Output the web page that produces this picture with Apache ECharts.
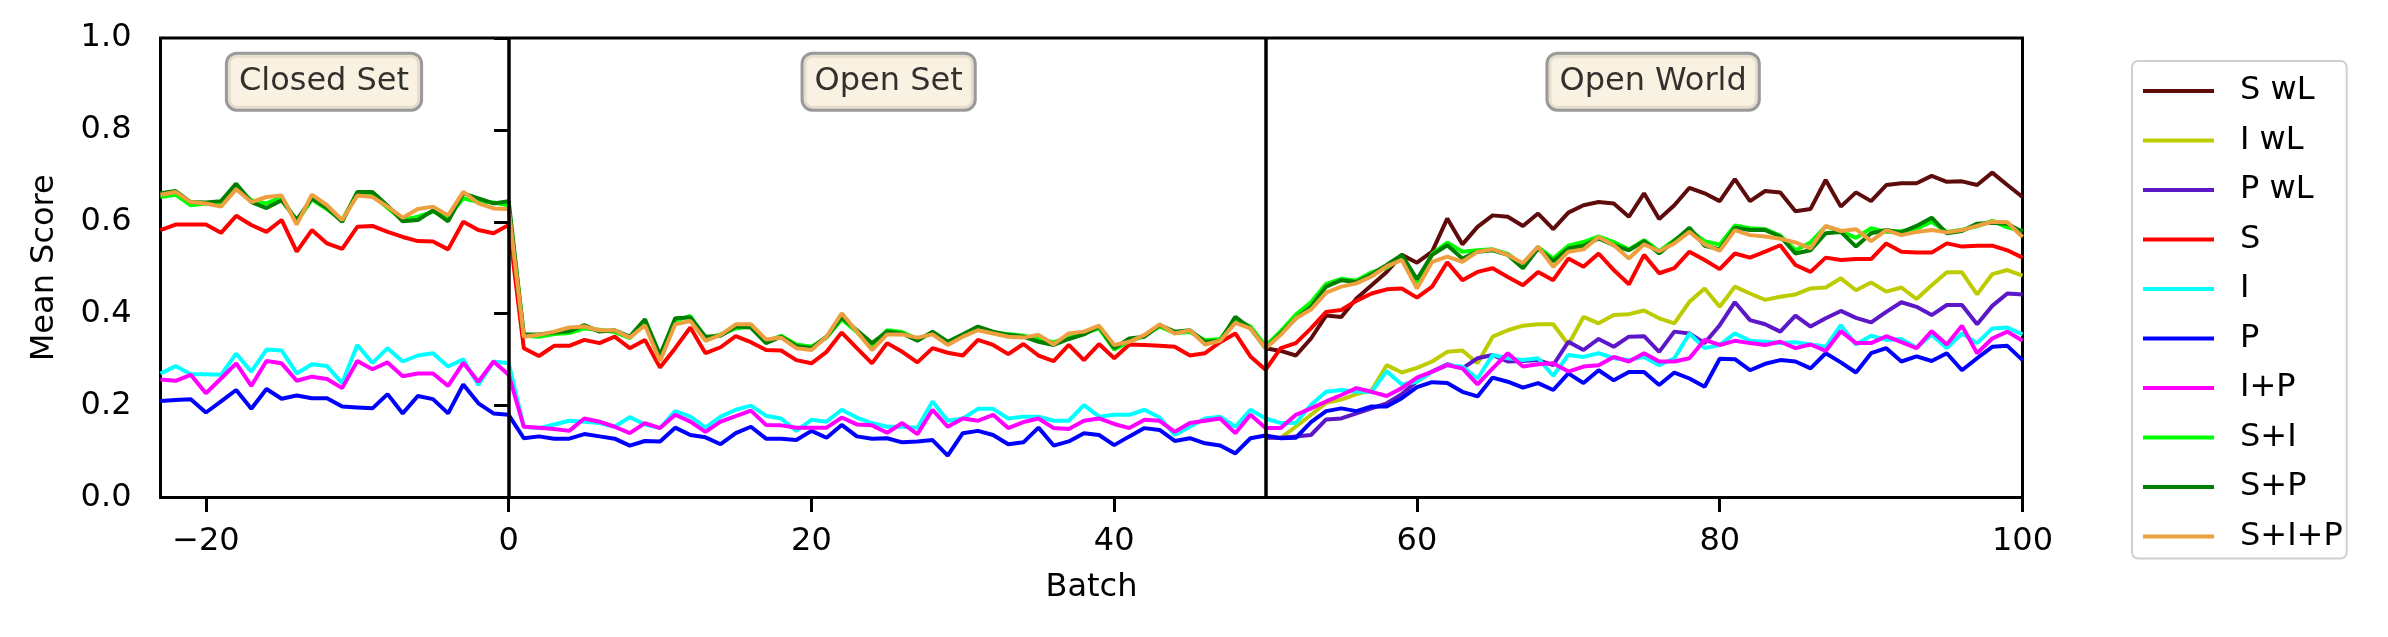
<!DOCTYPE html>
<html>
<head>
<meta charset="utf-8">
<script src="https://cdn.jsdelivr.net/npm/echarts@6/dist/echarts.min.js"></script>
<style>
html,body{margin:0;padding:0;background:#fff;}
#main{width:2388px;height:637px;}
</style>
</head>
<body>
<div id="main"></div>
<script>
// batches -23..100 for the base models, 50..100 for the "wL" models
var batchAll=[];
for(var b=-23;b<=100;b++){batchAll.push(b);}
var batchWL=[];
for(var b2=50;b2<=100;b2++){batchWL.push(b2);}

var seriesNames=["S wL","I wL","P wL","S","I","P","I+P","S+I","S+P","S+I+P"];
var seriesColors=["#5e0b0b","#bdcc00","#5c17c9","#ff0000","#00ffff","#0000ff","#ff00ff","#00ff00","#008000","#eea040"];

var sWL=[0.325,0.319,0.309,0.346,0.396,0.393,0.433,0.462,0.491,0.528,0.511,
	0.535,0.607,0.551,0.589,0.614,0.611,0.591,0.618,0.584,0.620,0.636,0.643,0.640,0.611,0.662,0.606,0.636,0.674,0.662,0.645,
	0.693,0.645,0.667,0.664,0.623,0.628,0.691,0.633,0.664,0.645,0.680,0.684,0.684,0.700,0.687,0.688,0.680,0.707,0.680,0.654];
var iWL=[0.130,0.130,0.154,0.180,0.206,0.213,0.225,0.233,0.288,0.272,0.282,
	0.296,0.317,0.320,0.292,0.350,0.364,0.374,0.377,0.377,0.333,0.393,0.379,0.397,0.399,0.407,0.390,0.379,0.426,0.455,0.415,
	0.459,0.444,0.430,0.437,0.442,0.455,0.457,0.477,0.451,0.468,0.448,0.457,0.432,0.462,0.490,0.490,0.442,0.486,0.495,0.483];
var pWL=[0.130,0.130,0.133,0.136,0.170,0.172,0.183,0.194,0.205,0.225,0.253,
	0.274,0.290,0.281,0.303,0.310,0.296,0.297,0.299,0.288,0.339,0.321,0.345,0.328,0.350,0.351,0.317,0.361,0.357,0.336,0.375,
	0.425,0.386,0.377,0.361,0.396,0.372,0.390,0.406,0.391,0.381,0.404,0.425,0.415,0.397,0.419,0.419,0.377,0.417,0.444,0.442];

var sVals=[0.582,0.594,0.594,0.594,0.576,0.613,0.593,0.578,0.604,0.535,0.582,0.553,0.541,0.589,0.591,0.578,0.567,0.558,0.557,0.540,0.600,0.582,0.575,0.593,
	0.325,0.308,0.330,0.330,0.343,0.336,0.350,0.325,0.343,0.283,0.325,0.370,0.314,0.327,0.351,0.338,0.321,0.320,0.299,0.292,
	0.317,0.359,0.325,0.292,0.336,0.317,0.294,0.325,0.315,0.309,0.343,0.332,0.312,0.334,0.309,0.297,0.332,0.299,0.334,0.303,
	0.333,0.332,0.330,0.328,0.309,0.314,0.338,0.357,0.307,0.278,0.325,0.336,0.368,0.404,0.408,0.428,0.444,0.453,0.455,0.435,
	0.459,0.512,0.473,0.491,0.499,0.480,0.462,0.491,0.473,0.520,0.502,0.531,0.495,0.464,0.528,0.488,0.499,0.535,0.517,0.497,
	0.531,0.522,0.535,0.549,0.506,0.491,0.522,0.517,0.519,0.519,0.553,0.535,0.533,0.533,0.553,0.546,0.548,0.548,0.538,0.522];
var iVals=[0.270,0.286,0.268,0.268,0.267,0.313,0.274,0.322,0.320,0.270,0.290,0.286,0.249,0.332,0.293,0.325,0.296,0.309,0.314,0.285,0.301,0.245,0.296,0.292,
	0.154,0.151,0.159,0.167,0.165,0.162,0.154,0.175,0.159,0.151,0.188,0.176,0.152,0.176,0.191,0.200,0.178,0.172,0.145,0.169,
	0.165,0.191,0.174,0.162,0.154,0.154,0.152,0.209,0.167,0.172,0.193,0.193,0.172,0.176,0.176,0.167,0.167,0.201,0.176,0.180,
	0.180,0.191,0.174,0.136,0.154,0.172,0.176,0.154,0.191,0.172,0.162,0.162,0.202,0.230,0.234,0.230,0.230,0.275,0.246,0.252,
	0.274,0.288,0.285,0.259,0.310,0.303,0.299,0.303,0.265,0.310,0.306,0.314,0.303,0.299,0.306,0.288,0.303,0.357,0.325,0.332,
	0.357,0.341,0.339,0.336,0.338,0.333,0.328,0.375,0.333,0.352,0.343,0.345,0.326,0.354,0.325,0.357,0.336,0.368,0.370,0.355];
var pVals=[0.210,0.212,0.214,0.185,0.209,0.234,0.193,0.236,0.215,0.222,0.216,0.216,0.198,0.196,0.194,0.225,0.183,0.221,0.214,0.183,0.246,0.205,0.183,0.180,
	0.129,0.133,0.128,0.128,0.138,0.133,0.128,0.113,0.123,0.122,0.152,0.136,0.131,0.116,0.140,0.154,0.128,0.128,0.125,0.145,
	0.130,0.158,0.133,0.128,0.129,0.120,0.122,0.125,0.091,0.140,0.145,0.136,0.116,0.120,0.152,0.113,0.122,0.140,0.136,0.114,
	0.133,0.151,0.147,0.123,0.129,0.118,0.113,0.096,0.129,0.135,0.129,0.130,0.164,0.188,0.194,0.188,0.198,0.198,0.216,0.240,
	0.251,0.249,0.230,0.220,0.261,0.252,0.239,0.249,0.234,0.270,0.249,0.277,0.255,0.273,0.273,0.245,0.272,0.259,0.241,0.302,
	0.301,0.277,0.291,0.299,0.296,0.281,0.314,0.294,0.272,0.314,0.325,0.296,0.307,0.297,0.314,0.277,0.303,0.328,0.330,0.299];
var ipVals=[0.257,0.254,0.267,0.227,0.259,0.292,0.243,0.297,0.292,0.254,0.263,0.258,0.238,0.297,0.279,0.294,0.264,0.270,0.270,0.243,0.293,0.252,0.296,0.267,
	0.154,0.152,0.149,0.145,0.172,0.165,0.154,0.140,0.162,0.151,0.180,0.165,0.143,0.165,0.177,0.189,0.158,0.157,0.152,0.152,
	0.152,0.174,0.159,0.157,0.141,0.162,0.138,0.191,0.154,0.172,0.167,0.180,0.151,0.164,0.172,0.151,0.149,0.167,0.172,0.160,
	0.151,0.169,0.167,0.143,0.162,0.167,0.172,0.140,0.180,0.151,0.151,0.180,0.194,0.209,0.223,0.238,0.230,0.221,0.238,0.261,
	0.274,0.288,0.281,0.246,0.281,0.314,0.285,0.290,0.292,0.274,0.285,0.288,0.306,0.296,0.314,0.296,0.296,0.303,0.343,0.332,
	0.341,0.336,0.332,0.339,0.325,0.333,0.319,0.362,0.336,0.336,0.351,0.338,0.325,0.362,0.333,0.374,0.314,0.346,0.361,0.341];
var siVals=[0.654,0.659,0.636,0.640,0.638,0.674,0.647,0.640,0.654,0.599,0.649,0.627,0.604,0.662,0.659,0.630,0.604,0.611,0.622,0.611,0.651,0.643,0.642,0.636,
	0.352,0.350,0.356,0.358,0.368,0.365,0.360,0.347,0.380,0.305,0.385,0.395,0.345,0.355,0.368,0.372,0.340,0.352,0.333,0.328,
	0.348,0.388,0.360,0.330,0.364,0.360,0.345,0.358,0.336,0.352,0.368,0.358,0.356,0.352,0.345,0.338,0.348,0.358,0.368,0.322,
	0.340,0.352,0.372,0.358,0.360,0.342,0.345,0.388,0.372,0.330,0.362,0.398,0.425,0.465,0.476,0.472,0.490,0.500,0.522,0.468,
	0.530,0.555,0.535,0.538,0.540,0.530,0.506,0.545,0.520,0.548,0.556,0.568,0.556,0.540,0.560,0.536,0.560,0.582,0.558,0.550,
	0.592,0.586,0.584,0.570,0.538,0.555,0.590,0.580,0.565,0.586,0.578,0.580,0.585,0.600,0.578,0.583,0.590,0.602,0.588,0.580];
var spVals=[0.662,0.667,0.643,0.642,0.645,0.683,0.643,0.630,0.647,0.604,0.651,0.630,0.600,0.665,0.665,0.635,0.601,0.604,0.625,0.601,0.662,0.651,0.640,0.645,
	0.355,0.355,0.359,0.362,0.375,0.361,0.364,0.350,0.388,0.310,0.390,0.392,0.350,0.352,0.372,0.370,0.336,0.350,0.330,0.325,
	0.350,0.392,0.364,0.336,0.361,0.357,0.341,0.361,0.339,0.355,0.372,0.361,0.354,0.350,0.339,0.332,0.345,0.355,0.372,0.325,
	0.346,0.350,0.375,0.361,0.364,0.339,0.341,0.393,0.368,0.325,0.357,0.390,0.415,0.459,0.473,0.469,0.486,0.506,0.528,0.475,
	0.528,0.549,0.520,0.535,0.538,0.528,0.499,0.542,0.514,0.542,0.548,0.564,0.549,0.538,0.558,0.531,0.558,0.587,0.548,0.540,
	0.587,0.582,0.582,0.568,0.531,0.538,0.575,0.578,0.546,0.575,0.582,0.577,0.591,0.609,0.575,0.580,0.596,0.598,0.596,0.578];
var sipVals=[0.659,0.665,0.643,0.640,0.633,0.671,0.643,0.654,0.657,0.594,0.659,0.636,0.604,0.657,0.654,0.633,0.609,0.628,0.633,0.614,0.665,0.640,0.629,0.628,
	0.350,0.354,0.361,0.370,0.372,0.364,0.364,0.348,0.375,0.297,0.377,0.384,0.341,0.354,0.377,0.377,0.344,0.348,0.325,0.321,
	0.350,0.401,0.361,0.321,0.355,0.355,0.348,0.355,0.332,0.350,0.364,0.357,0.350,0.348,0.354,0.333,0.357,0.361,0.374,0.332,
	0.339,0.354,0.377,0.357,0.364,0.333,0.341,0.380,0.368,0.325,0.354,0.390,0.409,0.446,0.459,0.466,0.481,0.503,0.517,0.455,
	0.513,0.524,0.513,0.535,0.540,0.528,0.510,0.546,0.502,0.535,0.540,0.567,0.549,0.520,0.551,0.536,0.553,0.578,0.551,0.537,
	0.582,0.571,0.568,0.563,0.555,0.542,0.591,0.580,0.584,0.558,0.582,0.571,0.578,0.582,0.577,0.582,0.591,0.600,0.599,0.567];

// phase labels and the phase borders
var phaseNames=["Closed Set","Open Set","Open World"];
var phaseX=[-12.2,25.1,75.6];
var phaseY=0.905;
var phaseBorders=[0,50];
var xTicks=[-20,0,20,40,60,80,100];

var FONT="DejaVu Sans";

function pairs(xs,ys){
	var out=[];
	for(var i=0;i<xs.length;i++){out.push([xs[i],ys[i]]);}
	return out;
}

var lineValues=[sWL,iWL,pWL,sVals,iVals,pVals,ipVals,siVals,spVals,sipVals];
var series=[];
for(var i=0;i<seriesNames.length;i++){
	var xs=i<3?batchWL:batchAll;
	series.push({
		name:seriesNames[i],
		type:'line',
		showSymbol:false,
		symbol:'none',
		color:seriesColors[i],
		lineStyle:{width:4,color:seriesColors[i]},
		data:pairs(xs,lineValues[i])
	});
}

var phaseData=[];
for(var j=0;j<phaseNames.length;j++){
	phaseData.push({value:[phaseX[j],phaseY],name:phaseNames[j]});
}
series.push({
	name:'phase',
	type:'scatter',
	symbolSize:0,
	z:10,
	silent:true,
	data:phaseData,
	label:{
		show:true,
		position:'inside',
		formatter:function(p){return p.name;},
		fontFamily:FONT,
		fontSize:32,
		lineHeight:38,
		color:'#000',
		backgroundColor:'#f8eedb',
		borderColor:'#7f7f7f',
		borderWidth:3,
		borderRadius:9,
		padding:[8,11,8,11]
	},
	markLine:{
		silent:true,
		symbol:['none','none'],
		label:{show:false},
		lineStyle:{color:'#000',width:3.5,type:'solid'},
		data:phaseBorders.map(function(v){return {xAxis:v};})
	}
});

var option={
	animation:false,
	backgroundColor:'#fff',
	grid:{
		left:160.5,
		right:365.5,
		top:38,
		bottom:139.5,
		show:true,
		borderColor:'#000',
		borderWidth:3
	},
	legend:{
		orient:'vertical',
		left:2132,
		top:61,
		data:seriesNames,
		icon:'rect',
		itemWidth:71,
		itemHeight:4,
		itemGap:11.5,
		selectedMode:false,
		padding:[11,4,3,11],
		borderColor:'#d0d0d0',
		borderWidth:2,
		borderRadius:6,
		textStyle:{fontFamily:FONT,fontSize:32,lineHeight:38,color:'#000',padding:[0,0,0,21]}
	},
	xAxis:{
		type:'value',
		min:-23,
		max:100,
		name:'Batch',
		nameLocation:'middle',
		nameGap:74,
		nameTextStyle:{fontFamily:FONT,fontSize:32,color:'#000'},
		splitLine:{show:false},
		axisLine:{show:false},
		axisTick:{show:true,length:14.6,lineStyle:{color:'#000',width:3},customValues:xTicks},
		axisLabel:{
			margin:28,
			fontFamily:FONT,
			fontSize:32,
			color:'#000',
			customValues:xTicks,
			formatter:function(v){return v<0?'\u2212'+Math.abs(v):String(v);}
		}
	},
	yAxis:{
		type:'value',
		min:0,
		max:1,
		interval:0.2,
		name:'Mean Score',
		nameLocation:'middle',
		nameGap:100,
		nameTextStyle:{fontFamily:FONT,fontSize:32,color:'#000'},
		splitLine:{show:false},
		axisLine:{show:false},
		axisTick:{show:true,length:14.6,lineStyle:{color:'#000',width:3}},
		axisLabel:{
			margin:29,
			fontFamily:FONT,
			fontSize:32,
			color:'#000',
			formatter:function(v){return v.toFixed(1);}
		}
	},
	series:series
};

var myChart=echarts.init(document.getElementById('main'));
myChart.setOption(option);
</script>
</body>
</html>
